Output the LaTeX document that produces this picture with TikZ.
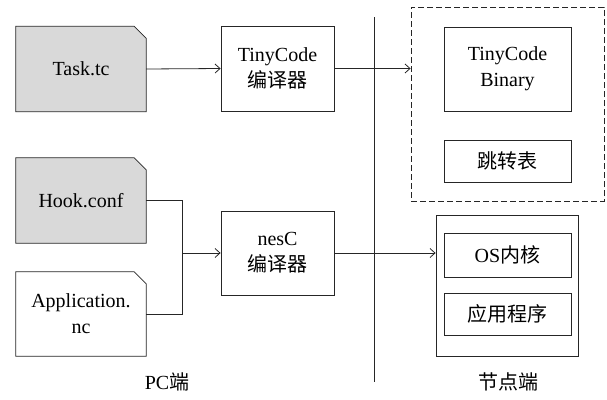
\documentclass[tikz,border=0pt]{standalone}
\usepackage{fontspec}
\setmainfont{Liberation Serif}
\newfontfamily\latn{Liberation Serif}
\newfontfamily\cjk{Noto Sans CJK SC}
\usetikzlibrary{arrows.meta}
\begin{document}
\begin{tikzpicture}[x=1pt,y=-1pt,
  every node/.style={font=\latn\fontsize{20}{26}\selectfont, align=center, inner sep=0pt},
  box/.style={draw=black!85, line width=0.8pt, minimum width=#1},
  box/.default=127,
  file/.style={minimum width=130, minimum height=85},
  conn/.style={line width=0.8pt, draw=black!85},
  arr/.style={conn, -{Straight Barb[length=5pt,width=9pt]}}]
\useasboundingbox (0,0) rectangle (607,399);
% file nodes
\node[file] (task) at (81,69) {};
\node[file, minimum height=85] (hook) at (81,200.5) {};
\node[file, minimum height=84] (app) at (81,314) {};
\foreach \n/\f in {task/black!15, hook/black!15, app/white}{
  \draw[line width=0.8pt, draw=black!85, fill=\f] (\n.south west) -- (\n.north west) -- ([xshift=-12pt]\n.north east) -- ([yshift=-12pt]\n.north east) -- (\n.south east) -- cycle;
}
\node at (task) {Task.tc};
\node at (hook) {Hook.conf};
\node at (app) {Application.\\nc};
% compilers
\node[box=113, minimum height=85] (tcc) at (277.5,68.5) {TinyCode\\{\cjk 编译器}};
\node[box=113, minimum height=84] (nesc) at (277.5,253) {nesC\\{\cjk 编译器}};
% node side
\node[draw=black!85, dash pattern=on 6pt off 3pt, line width=0.8pt, minimum width=193, minimum height=194] (dbox) at (507.5,104) {};
\node[box, minimum height=84] (bin) at (507.5,69) {TinyCode\\Binary};
\node[box, minimum height=42] (jump) at (507.5,161) {\cjk 跳转表};
\node[box=142, minimum height=141] (nbox) at (507,285.5) {};
\node[box, minimum height=44] (os) at (507.5,255) {OS{\cjk 内核}};
\node[box, minimum height=42] (appl) at (507.5,314) {\cjk 应用程序};
% divider
\coordinate (dtop) at (374,17);
\coordinate (dbot) at (374,382);
\draw[conn] (dtop) -- (dbot);
% connectors
\draw[arr] (task.east) -- (tcc.west);
\draw[arr] (tcc.east) -- (tcc.east -| dbox.west);
\coordinate (m) at (182,253);
\draw[conn] (hook.east) -| (m);
\draw[conn] (app.east) -| (m);
\draw[arr] (m) -- (nesc.west);
\draw[arr] (nesc.east) -- (nesc.east -| nbox.west);
% labels
\node (pc) at (167,382) {PC{\cjk 端}};
\node (nd) at (508,382) {\cjk 节点端};
\end{tikzpicture}
\end{document}
